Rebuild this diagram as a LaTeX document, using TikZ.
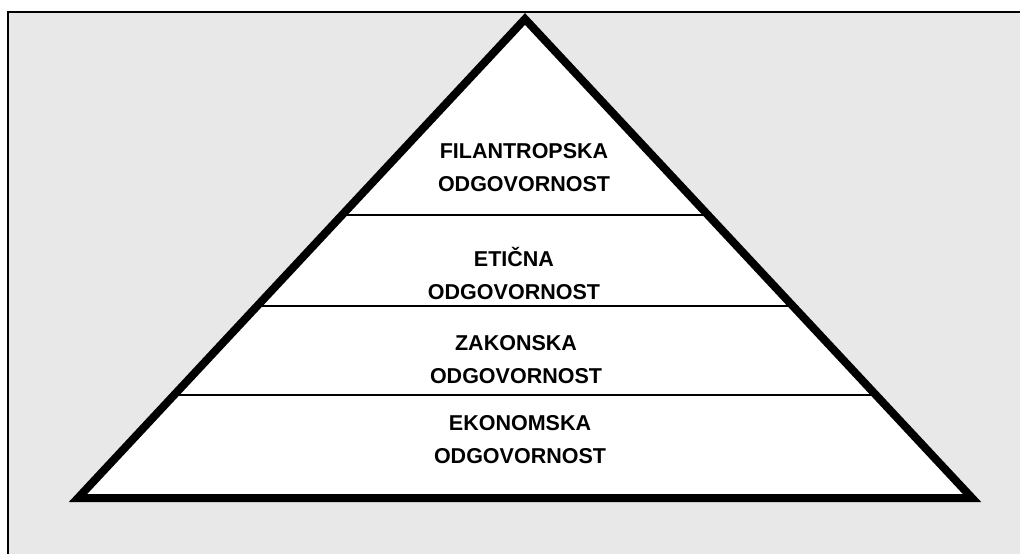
\documentclass[tikz,border=0pt]{standalone}
\usepackage{fontspec}
\setmainfont{Liberation Sans}
\usepackage{tikz}

\begin{document}
\begin{tikzpicture}[x=1pt,y=-1pt]
        \useasboundingbox (0,0) rectangle (1020,554);
        % speckled paper behind the pyramid
        \fill[black!9] (8,12) rectangle (1020,554);
        \draw[line width=2pt] (8,554) -- (8,12) -- (1020,12);

        \coordinate (top) at (525,19);
        \coordinate (bl) at (78,498);
        \coordinate (br) at (972,498);

        \coordinate (l1) at (342,215);
        \coordinate (r1) at (708,215);
        \coordinate (l2) at (257,306);
        \coordinate (r2) at (793,306);
        \coordinate (l3) at (174,395);
        \coordinate (r3) at (876,395);

        \fill[white] (top) -- (bl) -- (br) -- cycle;
        \begin{scope}[every path/.style={line width=1.5pt}]
            \draw (l1) -- (r1);
            \draw (l2) -- (r2);
            \draw (l3) -- (r3);
        \end{scope}
        \draw[line width=8pt,line join=miter] (top) -- (bl) -- (br) -- cycle;

        \begin{scope}[every node/.style={align=center,font=\fontsize{21.5}{33}\selectfont\bfseries}]
            \node (filan) at (524,168) {FILANTROPSKA\\ODGOVORNOST};
            \node (eticna) at (514,273) {ETIČNA\\ODGOVORNOST};
            \node (zakon) at (516,360) {ZAKONSKA\\ODGOVORNOST};
            \node (ekon) at (520,440) {EKONOMSKA\\ODGOVORNOST};
        \end{scope}
    \end{tikzpicture}
\end{document}
